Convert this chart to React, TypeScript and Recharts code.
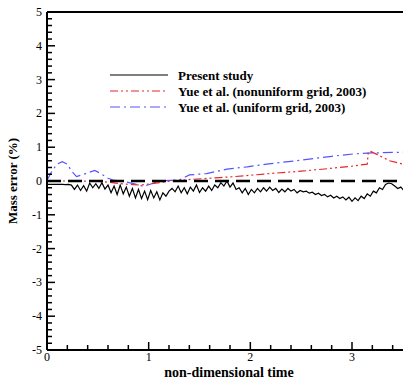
import { LineChart, Line, XAxis, YAxis, ReferenceLine, Legend } from 'recharts';

// Present study sampled every 0.03 time units from t = 0
const presentDt = 0.03;
const presentStudy = [
    -0.1, -0.1, -0.1, -0.1, -0.1, -0.1, -0.11, -0.1,
    -0.12,
    -0.25, -0.12, -0.28, -0.14, -0.3,
    -0.06, -0.2, -0.08, -0.22, -0.05, -0.24,
    -0.12, -0.35, -0.15, -0.4, -0.12, -0.38, -0.18,
    -0.45, -0.22, -0.5, -0.25,
    -0.52, -0.3, -0.55, -0.28, -0.5, -0.32, -0.56, -0.35,
    -0.45, -0.3, -0.22,
    -0.32, -0.15, -0.35, -0.2, -0.38, -0.18, -0.3, -0.12, -0.34, -0.2, -0.3, -0.15, -0.28,
    -0.12, -0.2, -0.05, -0.15, 0, -0.18, -0.06,
    -0.25, -0.2, -0.35, -0.22, -0.4, -0.25, -0.35,
    -0.22, -0.32, -0.2, -0.3, -0.18, -0.28, -0.22, -0.34, -0.24, -0.32, -0.22, -0.3, -0.25, -0.35, -0.28,
    -0.32, -0.3, -0.36, -0.33, -0.4, -0.36, -0.43, -0.4, -0.47, -0.42, -0.5, -0.45, -0.52,
    -0.47, -0.56, -0.48, -0.6, -0.5, -0.58, -0.45,
    -0.52, -0.38, -0.45, -0.3, -0.35, -0.2, -0.25, -0.1, -0.06,
    -0.08,
    -0.15, -0.22, -0.18, -0.28, -0.3, -0.36, -0.42,
];

const nonuniformTime = [0, 0.3, 0.55, 0.7, 0.85, 0.92, 1.05, 1.2, 1.43, 1.7, 1.84, 2.0, 2.19, 2.5, 2.78, 3.0, 3.15, 3.16, 3.18, 3.25, 3.37, 3.47, 3.6];
const nonuniformErr = [0, 0, -0.02, -0.07, -0.11, -0.12, -0.07, -0.01, 0.05, 0.1, 0.13, 0.17, 0.22, 0.29, 0.37, 0.44, 0.5, 0.86, 0.88, 0.78, 0.6, 0.52, 0.45];

const uniformTime = [0, 0.05, 0.1, 0.15, 0.2, 0.24, 0.29, 0.38, 0.47, 0.53, 0.6, 0.65, 0.78, 0.88, 0.95, 1.03, 1.11, 1.3, 1.36, 1.4, 1.57, 1.77, 1.97, 2.16, 2.45, 2.8, 3.01, 3.2, 3.6];
const uniformErr = [0.02, 0.3, 0.5, 0.57, 0.5, 0.3, 0.13, 0.22, 0.31, 0.22, 0.08, 0.03, -0.03, -0.1, -0.16, -0.08, 0, 0.03, 0.12, 0.18, 0.22, 0.35, 0.42, 0.5, 0.6, 0.73, 0.8, 0.83, 0.86];

const xTicks = [0, 0.2, 0.4, 0.6, 0.8, 1, 1.2, 1.4, 1.6, 1.8, 2, 2.2, 2.4, 2.6, 2.8, 3, 3.2, 3.4, 3.6];
const yTicks = [
    -5, -4.8, -4.6, -4.4, -4.2, -4, -3.8, -3.6, -3.4, -3.2,
    -3, -2.8, -2.6, -2.4, -2.2, -2, -1.8, -1.6, -1.4, -1.2,
    -1, -0.8, -0.6, -0.4, -0.2, 0, 0.2, 0.4, 0.6, 0.8,
    1, 1.2, 1.4, 1.6, 1.8, 2, 2.2, 2.4, 2.6, 2.8,
    3, 3.2, 3.4, 3.6, 3.8, 4, 4.2, 4.4, 4.6, 4.8, 5,
];

const seriesNames = ['Present study', 'Yue et al. (nonuniform grid, 2003)', 'Yue et al. (uniform grid, 2003)'];

const FONT = '"Liberation Serif", "Times New Roman", serif';
const RED = '#e8262a';
const BLUE = '#5454ff';

const presentData = presentStudy.map((v, i) => ({ t: i * presentDt, v }));
const nonuniformData = nonuniformTime.map((t, i) => ({ t, v: nonuniformErr[i] }));
const uniformData = uniformTime.map((t, i) => ({ t, v: uniformErr[i] }));

const legendStyles = [
    { stroke: '#000', dash: undefined },
    { stroke: RED, dash: '8 3 2 3 2 3' },
    { stroke: BLUE, dash: '10 4 2 4' },
];

function XTick({ x, y, payload }: any) {
    const major = Number.isInteger(payload.value);
    return (
        <g>
            <line x1={x} y1={y} x2={x} y2={y - (major ? 8 : 5)} stroke="#000" strokeWidth={1.5} />
            {major && (
                <text x={x} y={y + 11} textAnchor="middle" fontFamily={FONT} fontSize={12} fill="#000">
                    {payload.value}
                </text>
            )}
        </g>
    );
}

function YTick({ x, y, payload }: any) {
    const major = Number.isInteger(payload.value);
    return (
        <g>
            <line x1={x} y1={y} x2={x + (major ? 8 : 5)} y2={y} stroke="#000" strokeWidth={1.5} />
            {major && (
                <text x={x - 5} y={y + 4} textAnchor="end" fontFamily={FONT} fontSize={12} fill="#000">
                    {payload.value}
                </text>
            )}
        </g>
    );
}

function LegendBox() {
    return (
        <svg width={300} height={50}>
            {seriesNames.map((name, i) => (
                <g key={name}>
                    <line x1={2} x2={60} y1={9 + 16 * i} y2={9 + 16 * i} stroke={legendStyles[i].stroke}
                        strokeWidth={1.2} strokeDasharray={legendStyles[i].dash} />
                    <text x={70} y={13.5 + 16 * i} fontFamily={FONT} fontSize={13} fontWeight="bold" fill="#000">
                        {name}
                    </text>
                </g>
            ))}
        </svg>
    );
}

export default function App() {
    return (
        <div style={{ margin: '-8px 0 0 -8px', width: 411, height: 379, overflow: 'hidden', position: 'relative', background: '#fff' }}>
            <LineChart width={420} height={379} margin={{ top: 12, right: 7, bottom: 0, left: 0 }}>
                <XAxis
                    dataKey="t"
                    type="number"
                    domain={[0, 3.6]}
                    ticks={xTicks}
                    interval={0}
                    height={29}
                    tickSize={0}
                    tickMargin={0}
                    tickLine={false}
                    axisLine={{ stroke: '#000', strokeWidth: 2 }}
                    tick={<XTick />}
                    allowDataOverflow
                    label={{
                        content: () => (
                            <text x={229} y={377} textAnchor="middle" fontFamily={FONT} fontSize={14} fontWeight="bold" fill="#000">
                                non-dimensional time
                            </text>
                        ),
                    }}
                />
                <YAxis
                    type="number"
                    domain={[-5, 5]}
                    ticks={yTicks}
                    interval={0}
                    width={47}
                    tickSize={0}
                    tickMargin={0}
                    tickLine={false}
                    axisLine={{ stroke: '#000', strokeWidth: 2 }}
                    tick={<YTick />}
                    label={{
                        content: () => (
                            <text transform="translate(17,181) rotate(-90)" textAnchor="middle" fontFamily={FONT} fontSize={13} fontWeight="bold" fill="#000">
                                Mass error (%)
                            </text>
                        ),
                    }}
                />
                <ReferenceLine y={5} stroke="#000" strokeWidth={2} />
                <Line data={uniformData} dataKey="v" name={seriesNames[2]} stroke={BLUE} strokeWidth={1.2}
                    strokeDasharray="10 4 2 4" dot={false} isAnimationActive={false} />
                <Line data={nonuniformData} dataKey="v" name={seriesNames[1]} stroke={RED} strokeWidth={1.2}
                    strokeDasharray="8 3 2 3 2 3" dot={false} isAnimationActive={false} />
                <Line data={presentData} dataKey="v" name={seriesNames[0]} stroke="#000" strokeWidth={1.2}
                    dot={false} isAnimationActive={false} />
                <ReferenceLine y={0} stroke="#000" strokeWidth={2.5} strokeDasharray="14 7" />
                <Legend
                    layout="horizontal"
                    verticalAlign="middle"
                    align="center"
                    width={300}
                    wrapperStyle={{ left: 108, top: 66, width: 300 }}
                    content={() => <LegendBox />}
                />
            </LineChart>
        </div>
    );
}
